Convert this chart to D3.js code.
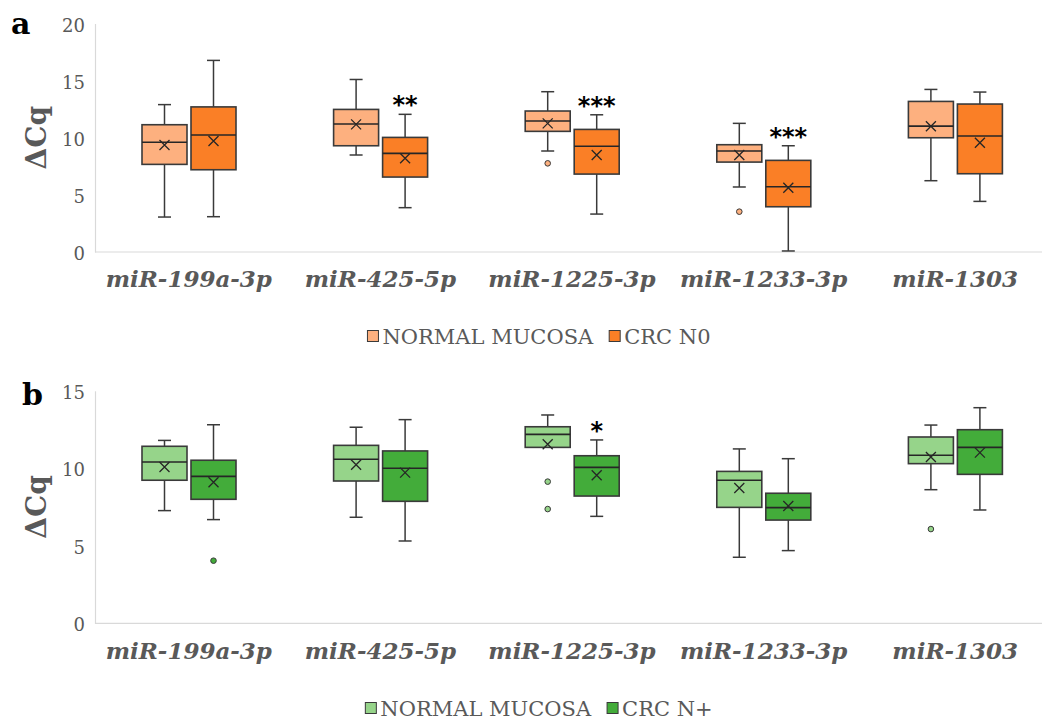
<!DOCTYPE html>
<html>
<head>
<meta charset="utf-8">
<script src="https://cdn.jsdelivr.net/npm/d3@7"></script>
<style>
  body { margin: 0; background: #fff; }
</style>
</head>
<body>
<svg id="chart" width="1044" height="720"></svg>
<script>
const width = 1044
const height = 720

const genes = ["miR-199a-3p", "miR-425-5p", "miR-1225-3p", "miR-1233-3p", "miR-1303"]

// panel a: normal mucosa vs CRC N0
const seriesA = ["NORMAL MUCOSA", "CRC N0"]
const normalA = [
  {min: 3.06, q1: 7.67, median: 9.6, q3: 11.14, max: 12.9, mean: 9.36, out: []},
  {min: 8.49, q1: 9.3, median: 11.2, q3: 12.48, max: 15.1, mean: 11.17, out: []},
  {min: 8.84, q1: 10.56, median: 11.46, q3: 12.34, max: 14.03, mean: 11.26, out: [7.76]},
  {min: 5.69, q1: 7.87, median: 8.84, q3: 9.39, max: 11.26, mean: 8.49, out: [3.53]},
  {min: 6.24, q1: 10.0, median: 11.02, q3: 13.18, max: 14.23, mean: 11.0, out: []}
]
const crcN0 = [
  {min: 3.09, q1: 7.2, median: 10.24, q3: 12.7, max: 16.77, mean: 9.71, out: []},
  {min: 3.88, q1: 6.56, median: 8.63, q3: 10.03, max: 12.05, mean: 8.2, out: []},
  {min: 3.32, q1: 6.82, median: 9.25, q3: 10.73, max: 12.01, mean: 8.49, out: []},
  {min: 0.09, q1: 3.96, median: 5.71, q3: 8.02, max: 9.3, mean: 5.63, out: []},
  {min: 4.43, q1: 6.85, median: 10.15, q3: 12.95, max: 14.0, mean: 9.56, out: []}
]
const sigA = ["", "**", "***", "***", ""]
const ticksA = [0, 5, 10, 15, 20]

// panel b: normal mucosa vs CRC N+
const seriesB = ["NORMAL MUCOSA", "CRC N+"]
const normalB = [
  {min: 7.27, q1: 9.23, median: 10.41, q3: 11.42, max: 11.8, mean: 10.08, out: []},
  {min: 6.84, q1: 9.18, median: 10.58, q3: 11.48, max: 12.65, mean: 10.23, out: []},
  {min: 11.35, q1: 11.35, median: 12.19, q3: 12.68, max: 13.44, mean: 11.55, out: [9.14, 7.37]},
  {min: 4.26, q1: 7.48, median: 9.23, q3: 9.8, max: 11.25, mean: 8.73, out: []},
  {min: 8.62, q1: 10.3, median: 10.84, q3: 12.02, max: 12.79, mean: 10.73, out: [6.08]}
]
const crcNplus = [
  {min: 6.69, q1: 8.0, median: 9.48, q3: 10.52, max: 12.81, mean: 9.1, out: [4.04]},
  {min: 5.31, q1: 7.87, median: 10.0, q3: 11.12, max: 13.14, mean: 9.72, out: []},
  {min: 6.9, q1: 8.21, median: 10.06, q3: 10.81, max: 11.83, mean: 9.55, out: []},
  {min: 4.69, q1: 6.66, median: 7.46, q3: 8.39, max: 10.62, mean: 7.57, out: []},
  {min: 7.31, q1: 9.61, median: 11.35, q3: 12.49, max: 13.91, mean: 11.01, out: []}
]
const sigB = ["", "", "*", "", ""]
const ticksB = [0, 5, 10, 15]

const grey = "#595959"
const ink = "#3a3a3a"
const axisGrey = "#d9d9d9"

const svg = d3.select("#chart").attr("viewBox", [0, 0, width, height])

const x = d3.scaleBand()
    .domain(genes)
    .range([93, 1051])

const x1 = d3.scaleBand()
    .range([47, 145])

function panel(opt) {
  const y = d3.scaleLinear().domain(opt.domain).range(opt.range)
  x1.domain(opt.series)
  const g = svg.append("g")
  const boxW = x1.bandwidth() - 4

  // axis lines
  g.append("line")
      .attr("x1", 95).attr("x2", 1042)
      .attr("y1", y(0)).attr("y2", y(0))
      .attr("stroke", axisGrey).attr("stroke-width", 1.2)

  g.append("g")
      .attr("transform", `translate(95,0)`)
      .attr("font-family", "DejaVu Serif")
      .call(d3.axisLeft(y).tickValues(opt.ticks).tickSize(0).tickPadding(10))
      .call(g => g.attr("font-family", "DejaVu Serif"))
      .call(g => g.select(".domain").attr("stroke", axisGrey).attr("stroke-width", 1.2))
      .call(g => g.selectAll("text")
          .attr("font-size", 18)
          .attr("fill", grey)
          .attr("dy", "0.42em"))

  // gene labels
  g.append("g")
      .selectAll("text")
      .data(genes)
      .join("text")
      .attr("x", d => x(d) + x.bandwidth() / 2)
      .attr("y", opt.labelY)
      .attr("text-anchor", "middle")
      .attr("font-family", "DejaVu Serif")
      .attr("font-style", "italic")
      .attr("font-weight", "bold")
      .attr("font-size", 23)
      .attr("fill", grey)
      .text(d => d)

  // y title
  g.append("text")
      .attr("transform", `translate(46,${(opt.range[0] + opt.range[1]) / 2}) rotate(-90)`)
      .attr("text-anchor", "middle")
      .attr("font-family", "DejaVu Serif")
      .attr("font-weight", "bold")
      .attr("font-size", 28)
      .attr("fill", grey)
      .text("ΔCq")

  // panel letter
  g.append("text")
      .attr("x", opt.letterX).attr("y", opt.letterY)
      .attr("font-family", "DejaVu Serif")
      .attr("font-weight", "bold")
      .attr("font-size", 30)
      .attr("fill", "#000")
      .text(opt.letter)

  opt.data.forEach((stats, si) => {
    const fill = opt.colors[si]
    const boxes = g.append("g")
        .selectAll("g")
        .data(stats.map((s, i) => ({...s, gene: genes[i]})))
        .join("g")
        .attr("transform", d => `translate(${x(d.gene) + x1(opt.series[si]) + x1.bandwidth() / 2},0)`)

    // whiskers
    boxes.append("line")
        .attr("y1", d => y(d.max)).attr("y2", d => y(d.q3))
        .attr("stroke", ink).attr("stroke-width", 1.5)
    boxes.append("line")
        .attr("y1", d => y(d.q1)).attr("y2", d => y(d.min))
        .attr("stroke", ink).attr("stroke-width", 1.5)
    boxes.append("line")
        .attr("x1", -6.5).attr("x2", 6.5)
        .attr("y1", d => y(d.max)).attr("y2", d => y(d.max))
        .attr("stroke", ink).attr("stroke-width", 1.5)
    boxes.filter(d => d.min < d.q1).append("line")
        .attr("x1", -6.5).attr("x2", 6.5)
        .attr("y1", d => y(d.min)).attr("y2", d => y(d.min))
        .attr("stroke", ink).attr("stroke-width", 1.5)

    boxes.append("rect")
        .attr("x", -boxW / 2)
        .attr("width", boxW)
        .attr("y", d => y(d.q3))
        .attr("height", d => y(d.q1) - y(d.q3))
        .attr("fill", fill)
        .attr("stroke", ink).attr("stroke-width", 1.6)

    boxes.append("line")
        .attr("x1", -boxW / 2).attr("x2", boxW / 2)
        .attr("y1", d => y(d.median)).attr("y2", d => y(d.median))
        .attr("stroke", "#262626").attr("stroke-width", 1.6)

    // mean marker
    boxes.append("path")
        .attr("d", d => {
          const m = y(d.mean), r = 5
          return `M${-r},${m - r}L${r},${m + r}M${-r},${m + r}L${r},${m - r}`
        })
        .attr("stroke", "#262626").attr("stroke-width", 1.3)

    boxes.selectAll("circle")
        .data(d => d.out)
        .join("circle")
        .attr("cy", v => y(v))
        .attr("r", 2.8)
        .attr("fill", fill)
        .attr("stroke", ink).attr("stroke-width", 1)

    // significance stars above the second series
    if (si === 1) {
      boxes.append("text")
          .attr("y", d => y(d.max) - 1)
          .attr("text-anchor", "middle")
          .attr("font-family", "DejaVu Sans")
          .attr("font-weight", "bold")
          .attr("font-size", 24)
          .attr("fill", "#000")
          .text((d, i) => opt.sig[i])
    }
  })

  // legend
  const leg = g.append("g").attr("transform", `translate(0,${opt.legendY})`)
  const items = leg.selectAll("g")
      .data(opt.series)
      .join("g")
  items.append("rect")
      .attr("y", -5.5).attr("width", 11).attr("height", 11)
      .attr("fill", (d, i) => opt.colors[i])
      .attr("stroke", ink).attr("stroke-width", 1)
  items.append("text")
      .attr("x", 15)
      .attr("dy", "0.36em")
      .attr("font-family", "DejaVu Serif")
      .attr("font-size", 21)
      .attr("fill", grey)
      .text(d => d)
  let pos = 0
  const offs = []
  items.each(function (d, i) {
    offs.push(pos)
    pos += 15 + this.querySelector("text").getComputedTextLength() + (i < opt.series.length - 1 ? 16 : 0)
  })
  const start = 539 - pos / 2
  items.attr("transform", (d, i) => `translate(${start + offs[i]},0)`)
}

panel({
  letter: "a", letterX: 11, letterY: 34,
  domain: [0, 20], range: [252, 23.5], ticks: ticksA,
  series: seriesA, data: [normalA, crcN0], sig: sigA,
  colors: ["#fdb07f", "#fa7f26"],
  labelY: 287, legendY: 336
})

panel({
  letter: "b", letterX: 22, letterY: 405,
  domain: [0, 15], range: [623.3, 390.8], ticks: ticksB,
  series: seriesB, data: [normalB, crcNplus], sig: sigB,
  colors: ["#96d48a", "#43ac3a"],
  labelY: 659, legendY: 708
})
</script>
</body>
</html>
